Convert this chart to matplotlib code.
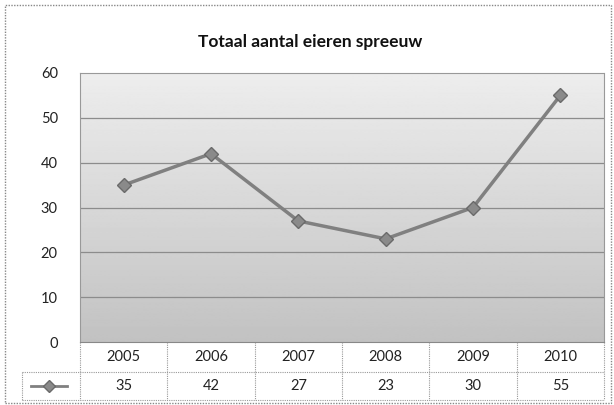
import numpy as np
import matplotlib
matplotlib.use("Agg")
import matplotlib.pyplot as plt
from matplotlib.patches import Rectangle
from matplotlib.lines import Line2D

years = ["2005", "2006", "2007", "2008", "2009", "2010"]
values = [35, 42, 27, 23, 30, 55]
yticks = [0, 10, 20, 30, 40, 50, 60]
title = "Totaal aantal eieren spreeuw"

plt.rcParams['font.family'] = ['Lato', 'DejaVu Sans']

fig = plt.figure(figsize=(6.14, 4.05), dpi=100)
W, H = 614, 405
ax = fig.add_axes([80 / W, 1 - 342 / H, 524 / W, 269 / H])

n = len(years)
x = np.arange(n)

# gradient background (light at top, darker at bottom)
grad = np.linspace(0.93, 0.76, 256).reshape(-1, 1)
ax.imshow(grad, extent=(-0.5, n - 0.5, 0, 60), aspect='auto', cmap='gray',
          vmin=0, vmax=1, zorder=0, origin='upper')
ax.set_xlim(-0.5, n - 0.5)
ax.set_ylim(0, 60)

for yv in yticks[1:-1]:
    ax.axhline(yv, color='#8c8c8c', lw=0.9, zorder=1)

ax.plot(x, values, color='#808080', lw=2.5, marker='D', markersize=7,
        markerfacecolor='#8a8a8a', markeredgecolor='#6a6a6a', zorder=3)

ax.set_yticks(yticks)
ax.set_yticklabels([str(v) for v in yticks], fontsize=10.5, color='#222222')
ax.tick_params(axis='y', length=0, pad=16)
ax.set_xticks([])
for s in ['left', 'right', 'top']:
    ax.spines[s].set_color('#999999')
    ax.spines[s].set_linestyle((0, (1, 1)))
    ax.spines[s].set_linewidth(0.8)
ax.spines['bottom'].set_color('#888888')
ax.spines['bottom'].set_linewidth(0.8)

# data table
tr = ax.get_xaxis_transform()
row1_y = (342 - 357) / 269
row2_y = (342 - 386) / 269
line1 = (342 - 372) / 269
line2 = (342 - 400) / 269
leg_left = -0.5 - 58 / (524 / n)

ax.add_line(Line2D([leg_left, n - 0.5], [line1, line1], transform=tr, clip_on=False,
                   color='#999999', lw=0.8, linestyle=(0, (1, 1))))
ax.add_line(Line2D([leg_left, n - 0.5], [line2, line2], transform=tr, clip_on=False,
                   color='#999999', lw=0.8, linestyle=(0, (1, 1))))
for b in np.arange(-0.5, n, 1.0):
    ax.add_line(Line2D([b, b], [0, line2], transform=tr, clip_on=False,
                       color='#999999', lw=0.8, linestyle=(0, (1, 1))))
ax.add_line(Line2D([leg_left, leg_left], [line1, line2], transform=tr, clip_on=False,
                   color='#999999', lw=0.8, linestyle=(0, (1, 1))))

for xi, yr, v in zip(x, years, values):
    ax.text(xi, row1_y, yr, transform=tr, ha='center', va='center',
            fontsize=10.5, color='#222222')
    ax.text(xi, row2_y, str(v), transform=tr, ha='center', va='center',
            fontsize=10.5, color='#222222')

lx0 = leg_left + 0.1
lx1 = -0.5 - 0.15
ax.add_line(Line2D([lx0, lx1], [row2_y, row2_y], transform=tr, clip_on=False,
                   color='#808080', lw=2.0))
ax.add_line(Line2D([(lx0 + lx1) / 2], [row2_y], transform=tr, clip_on=False,
                   marker='D', markersize=6, markerfacecolor='#8a8a8a',
                   markeredgecolor='#6a6a6a', lw=0))

fig.text(310 / W, 1 - 42 / H, title, ha='center', va='center', fontsize=12.5,
         color='#111111', fontweight='bold')

fig.patches.append(Rectangle((5 / W, 2 / H), 606 / W, 398 / H, transform=fig.transFigure,
                             fill=False, edgecolor='#888888', lw=1.0,
                             linestyle=(0, (1, 1))))

fig.savefig("out.png", dpi=100)
